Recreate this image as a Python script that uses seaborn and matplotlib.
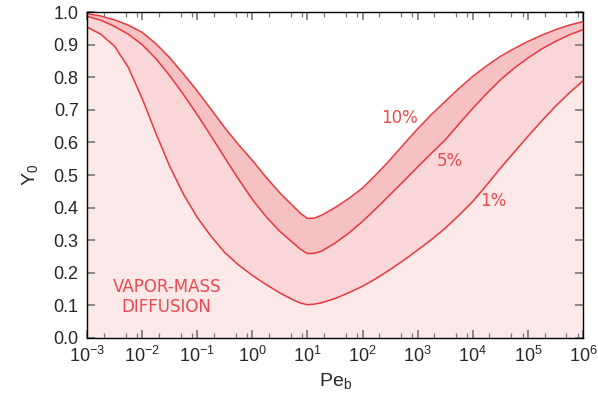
import numpy as np
import pandas as pd
import matplotlib.pyplot as plt
import seaborn as sns
from matplotlib.ticker import LogLocator, MultipleLocator, FormatStrFormatter

# expoente de Pe_b (quartos de decada, com dois pontos extras perto do minimo)
log_pe = [-3, -2.75, -2.5, -2.25, -2, -1.75, -1.5, -1.25, -1, -0.75, -0.5, -0.25,
          0, 0.25, 0.5, 0.75, 0.875, 1, 1.125, 1.25, 1.5, 1.75, 2, 2.25, 2.5, 2.75,
          3, 3.25, 3.5, 3.75, 4, 4.25, 4.5, 4.75, 5, 5.25, 5.5, 5.75, 6]

y_10 = [0.995, 0.988, 0.976, 0.960, 0.938, 0.903, 0.860, 0.810, 0.758, 0.702, 0.645, 0.593,
        0.545, 0.493, 0.445, 0.403, 0.382, 0.367, 0.368, 0.376, 0.400, 0.428, 0.460, 0.502,
        0.547, 0.595, 0.642, 0.686, 0.726, 0.766, 0.803, 0.835, 0.864, 0.888, 0.910, 0.929,
        0.946, 0.960, 0.971]
y_5 = [0.987, 0.975, 0.956, 0.932, 0.900, 0.857, 0.805, 0.747, 0.685, 0.620, 0.553, 0.487,
       0.425, 0.372, 0.327, 0.290, 0.272, 0.259, 0.260, 0.266, 0.291, 0.322, 0.358, 0.398,
       0.440, 0.482, 0.525, 0.567, 0.608, 0.657, 0.705, 0.750, 0.792, 0.828, 0.859, 0.887,
       0.910, 0.930, 0.946]
y_1 = [0.954, 0.932, 0.895, 0.830, 0.735, 0.628, 0.527, 0.441, 0.370, 0.312, 0.262, 0.224,
       0.192, 0.164, 0.138, 0.116, 0.107, 0.102, 0.104, 0.108, 0.121, 0.139, 0.159, 0.183,
       0.210, 0.239, 0.270, 0.302, 0.337, 0.377, 0.419, 0.469, 0.521, 0.570, 0.619, 0.666,
       0.711, 0.752, 0.789]

labels = ['1%', '5%', '10%']
label_pos = [(2.37e4, 0.421), (3.76e3, 0.542), (4.6e2, 0.675)]

red = '#e8383d'
text_red = '#e84a4f'

sns.set_style('ticks')
plt.rcParams['font.family'] = ['Liberation Sans', 'DejaVu Sans']
plt.rcParams['mathtext.fontset'] = 'custom'
plt.rcParams['mathtext.rm'] = 'Liberation Sans'
plt.rcParams['mathtext.it'] = 'Liberation Sans:italic'
plt.rcParams['mathtext.default'] = 'regular'

pe = [10.0 ** e for e in log_pe]
df = pd.DataFrame({
    'Pe': pe * 3,
    'Y0': y_1 + y_5 + y_10,
    'caso': ['1%'] * len(pe) + ['5%'] * len(pe) + ['10%'] * len(pe),
})

fig = plt.figure(figsize=(5.98, 4.03), dpi=100)
ax = fig.add_axes([0.1455, 0.1613, 0.8295, 0.8087])

# regioes preenchidas
ax.fill_between(pe, 0, y_1, color='#fbe8e8', lw=0, zorder=1)
ax.fill_between(pe, y_1, y_5, color='#f9d6d7', lw=0, zorder=1)
ax.fill_between(pe, y_5, y_10, color='#f6c1c2', lw=0, zorder=1)

sns.lineplot(data=df, x='Pe', y='Y0', hue='caso', palette=[red] * 3,
             legend=False, estimator=None, sort=False, lw=1.1, ax=ax, zorder=2)

ax.set_xscale('log')
ax.set_xlim(1e-3, 1e6)
ax.set_ylim(0, 1)
ax.set_axisbelow(False)
ax.xaxis.set_major_locator(LogLocator(base=10, numticks=20))
ax.xaxis.set_minor_locator(LogLocator(base=10, subs=[2, 5, 8], numticks=20))
ax.yaxis.set_major_locator(MultipleLocator(0.1))
ax.yaxis.set_major_formatter(FormatStrFormatter('%.1f'))

ax.tick_params(which='both', direction='in', top=True, right=True, bottom=True, left=True,
               color='#777777', labelsize=13, pad=6)
ax.tick_params(which='major', length=6, width=1.2)
ax.tick_params(which='minor', length=3.5, width=0.9)
for s in ax.spines.values():
    s.set_color('black')
    s.set_linewidth(1)
    s.set_zorder(5)

ax.set_xlabel('Pe$_b$', fontsize=14, labelpad=3)
ax.set_ylabel('Y$_0$', fontsize=14, labelpad=10)

for lab, (x, y) in zip(labels, label_pos):
    ax.text(x, y, lab, color=text_red, fontsize=12, ha='center', va='center',
            family='DejaVu Sans')

ax.text(2.8e-2, 0.127, 'VAPOR-MASS\nDIFFUSION', color=text_red, fontsize=12,
        ha='center', va='center', family='DejaVu Sans', linespacing=1.15)

plt.savefig('out.png', dpi=100)
